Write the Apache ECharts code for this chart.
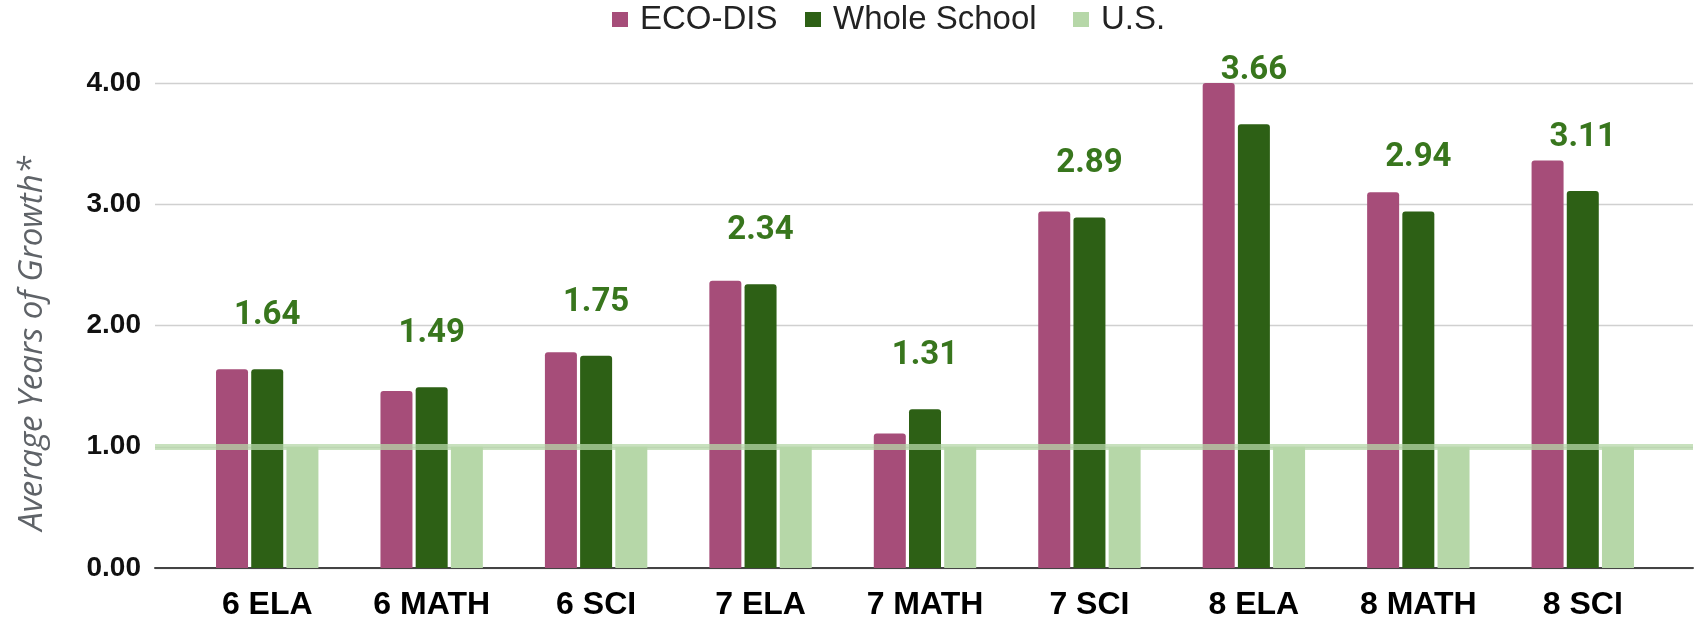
<!DOCTYPE html>
<html>
<head>
<meta charset="utf-8">
<script src="https://cdn.jsdelivr.net/npm/echarts@6/dist/echarts.min.js"></script>
<style>html,body{margin:0;padding:0;background:#fff;}#c{width:1698px;height:622px;}</style>
</head>
<body>
<div id="c"></div>
<script>
const categories = ['6 ELA', '6 MATH', '6 SCI', '7 ELA', '7 MATH', '7 SCI', '8 ELA', '8 MATH', '8 SCI'];
const ecoDis = [1.64, 1.46, 1.78, 2.37, 1.11, 2.94, 4.00, 3.10, 3.36];
const wholeSchool = [1.64, 1.49, 1.75, 2.34, 1.31, 2.89, 3.66, 2.94, 3.11];
const us = [1.00, 1.00, 1.00, 1.00, 1.00, 1.00, 1.00, 1.00, 1.00];
const usLineValue = 1.00;
const yTicks = [0, 1, 2, 3, 4];

const C_MAG = '#a64d79', C_DG = '#2d6015', C_LG = '#b6d7a8', C_LBL = '#38761d';
const chart = echarts.init(document.getElementById('c'), null, {renderer: 'canvas'});
const legendText = {fontFamily: 'Liberation Sans', fontSize: 33, color: '#222', padding: [0, 0, 0, 7]};
const legendBase = {top: 3, padding: 0, itemWidth: 16, itemHeight: 15, icon: 'rect', textStyle: legendText};
chart.setOption({
  animation: false,
  legend: [
    Object.assign({left: 612, data: ['ECO-DIS']}, legendBase),
    Object.assign({left: 805, data: ['Whole School']}, legendBase),
    Object.assign({left: 1073, data: ['U.S.']}, legendBase)
  ],
  grid: [
    {left: 155, right: 5, top: 83, bottom: 54},
    {left: 185, right: 33, top: 83, bottom: 54}
  ],
  xAxis: [
    {gridIndex: 0, type: 'value', min: 0, max: 1, axisLabel: {show: false}, axisTick: {show: false},
     splitLine: {show: false}, axisLine: {show: true, lineStyle: {color: '#444', width: 2}}},
    {gridIndex: 1, type: 'category', data: categories, axisLine: {show: false}, axisTick: {show: false},
     axisLabel: {margin: 21, fontFamily: 'Liberation Sans', fontWeight: 'bold', fontSize: 32, color: '#000'}}
  ],
  yAxis: [
    {gridIndex: 0, type: 'value', min: yTicks[0], max: yTicks[yTicks.length - 1], interval: 1,
     axisLine: {show: false}, axisTick: {show: false},
     axisLabel: {margin: 14, fontFamily: 'Liberation Sans', fontWeight: 'bold', fontSize: 28, color: '#111',
       formatter: v => v.toFixed(2)},
     splitLine: {lineStyle: {color: '#d0d0d0', width: 1.3}},
     name: 'Average Years of Growth*', nameLocation: 'middle', nameRotate: 90, nameGap: 106,
     nameTextStyle: {fontFamily: 'Open Sans', fontStyle: 'italic', fontSize: 33, color: '#5f6368', padding: [0, 36, 0, 0]}},
    {gridIndex: 1, type: 'value', min: 0, max: 4, interval: 1, show: false}
  ],
  series: [
    {name: 'ECO-DIS', type: 'bar', xAxisIndex: 1, yAxisIndex: 1, data: ecoDis, barWidth: 32, barGap: '10%',
     itemStyle: {color: C_MAG, borderRadius: [3, 3, 0, 0]}},
    {name: 'Whole School', type: 'bar', xAxisIndex: 1, yAxisIndex: 1, data: wholeSchool, barWidth: 32, barGap: '10%',
     itemStyle: {color: C_DG, borderRadius: [3, 3, 0, 0]},
     label: {show: true, position: 'top', distance: 37, fontFamily: 'Roboto', fontWeight: 'bold', fontSize: 33,
       color: C_LBL, formatter: p => p.value.toFixed(2)}},
    {name: 'U.S.', type: 'bar', xAxisIndex: 1, yAxisIndex: 1, data: us, barWidth: 32, barGap: '10%',
     itemStyle: {color: C_LG}},
    {name: 'usLine', type: 'line', xAxisIndex: 0, yAxisIndex: 0, data: [], z: 10, silent: true,
     markLine: {silent: true, symbol: 'none', label: {show: false},
       lineStyle: {color: C_LG, width: 6, type: 'solid', opacity: 0.75},
       emphasis: {disabled: true}, data: [{yAxis: usLineValue}]}}
  ]
});
</script>
</body>
</html>
